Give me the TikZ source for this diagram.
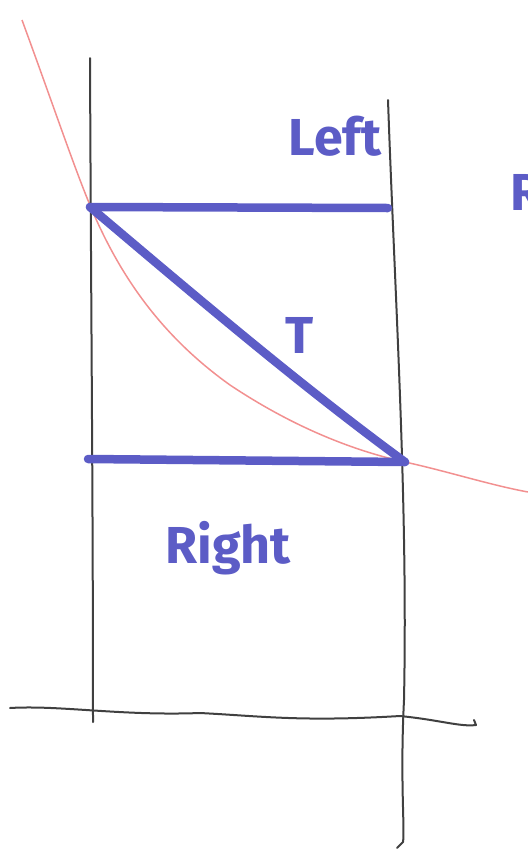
\documentclass[tikz,border=0pt]{standalone}
\usepackage{fontspec}
\setmainfont{Fira Sans}
\begin{document}
\begin{tikzpicture}[x=1pt,y=-1pt,
  pen/.style={draw=black!75,line width=2pt,line cap=round,line join=round},
  marker/.style={draw=blueink,line width=8.5pt,line cap=round,line join=round},
  curve/.style={draw=pinkink,line width=1.5pt},
  lbl/.style={text=blueink,font=\bfseries\fontsize{52}{54}\selectfont,inner sep=0pt}]
\definecolor{blueink}{HTML}{5C5CC6}
\definecolor{pinkink}{HTML}{F29090}
\useasboundingbox (0,0) rectangle (528,855);
\begin{scope}
\clip (0,0) rectangle (528,855);
% pink curve
\draw[curve] (22,20) .. controls (55,110) and (75,170) .. (92,210)
  .. controls (120,275) and (160,335) .. (230,385)
  .. controls (290,425) and (350,450) .. (405,462)
  .. controls (450,472) and (490,485) .. (528,492);
% black frame lines
\coordinate (lt) at (90,58);
\coordinate (lb) at (93,722);
\coordinate (rt) at (388,100);
\coordinate (rb) at (403,842);
\draw[pen] (lt) .. controls (91,300) and (93,500) .. (lb);
\draw[pen] (rt) .. controls (395,300) and (408,500) .. (404,700) .. controls (400,780) and (405,830) .. (rb) -- (397,848);
\coordinate (ax1) at (10,708);
\coordinate (ax2) at (476,725);
\draw[pen] (ax1) .. controls (60,705) and (120,716) .. (200,713)
  .. controls (260,716) and (300,722) .. (400,716)
  .. controls (440,720) and (460,727) .. (ax2) -- (474,720);
% blue marker lines
\coordinate (A) at (90,207);
\coordinate (B) at (388,208);
\coordinate (C) at (405,462);
\coordinate (D) at (88,459);
\draw[marker] (A) -- (B);
\draw[marker] (A) .. controls (200,300) and (300,385) .. (C);
\draw[marker] (D) -- (C);
\node[lbl] (left) at (335,136) {Left};
\node[lbl] (t) at (300,335) {T};
\node[lbl] (right) at (228,548) {Right};
\node[lbl,anchor=west] (r) at (510,192) {R};
\end{scope}
\end{tikzpicture}
\end{document}
